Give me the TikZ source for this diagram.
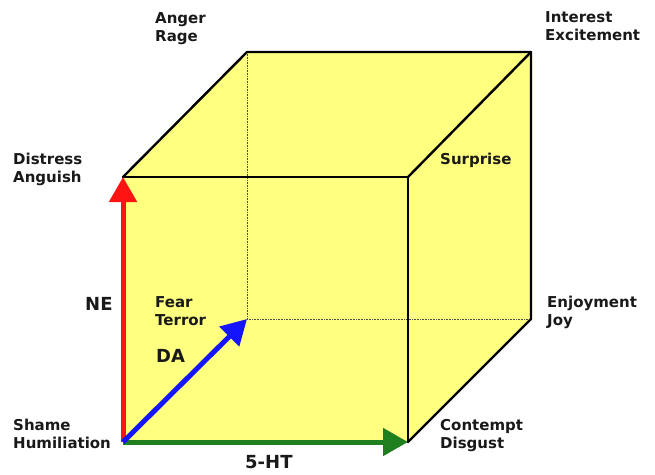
\documentclass[tikz,border=0pt]{standalone}
\usepackage{fontspec}
\setmainfont{DejaVu Sans}
\usepackage{xcolor}
\definecolor{cubeyellow}{HTML}{FFFF80}
\definecolor{nered}{HTML}{FF1414}
\definecolor{dablue}{HTML}{1414FF}
\definecolor{htgreen}{HTML}{1F7F1F}
\usetikzlibrary{arrows.meta}
\tikzset{
  emo/.style  ={font=\fontsize{15}{18}\selectfont\bfseries, align=left, inner sep=0pt,
                anchor=north west, text=black!90},
  axlab/.style={font=\fontsize{18}{21}\selectfont\bfseries, inner sep=0pt,
                anchor=base west, text=black!90},
  edge/.style ={line width=2.4pt, line join=round, line cap=round},
  hidden/.style={densely dotted, line width=0.6pt, draw=black!70},
  axarr/.style={line width=5pt, -{Triangle[length=25pt, width=27pt]}},
}

\begin{document}
\begin{tikzpicture}[x=1pt, y=-1pt]
  \useasboundingbox (0,0) rectangle (655,474);
  % cube corners
  \coordinate (ftl) at (123,177);
  \coordinate (ftr) at (408,177);
  \coordinate (fbl) at (123,442);
  \coordinate (fbr) at (408,442);
  \coordinate (btl) at (247,52);
  \coordinate (btr) at (531,52);
  \coordinate (bbr) at (531,319);
  \coordinate (bbl) at (247,319);
  \fill[cubeyellow] (ftl) -- (btl) -- (btr) -- (bbr) -- (fbr) -- (fbl) -- cycle;
  \draw[hidden] (btl) -- (bbl) -- (bbr);
  \draw[edge] (ftl) -- (btl) -- (btr) -- (bbr) -- (fbr);
  \draw[edge] (btr) -- (ftr);
  \draw[edge] (ftl) -- (ftr) -- (fbr);
  % axes
  \draw[axarr, nered] (fbl) -- (ftl);
  \draw[axarr, htgreen] (fbl) -- (fbr);
  \draw[axarr, dablue] (fbl) -- (bbl);
  % corner labels
  \node[emo] (anger)     at (155,12)  {Anger\\Rage};
  \node[emo] (interest)  at (545,11)  {Interest\\Excitement};
  \node[emo] (distress)  at (13,153)  {Distress\\Anguish};
  \node[emo] (surprise)  at (440,153) {Surprise};
  \node[emo] (fear)      at (155,296) {Fear\\Terror};
  \node[emo] (enjoyment) at (547,296) {Enjoyment\\Joy};
  \node[emo] (shame)     at (13,419)  {Shame\\Humiliation};
  \node[emo] (contempt)  at (440,419) {Contempt\\Disgust};
  % axis labels
  \node[axlab] (ne) at (85,310)  {NE};
  \node[axlab] (da) at (156,362) {DA};
  \node[axlab] (ht) at (245,468) {5-HT};
\end{tikzpicture}
\end{document}
